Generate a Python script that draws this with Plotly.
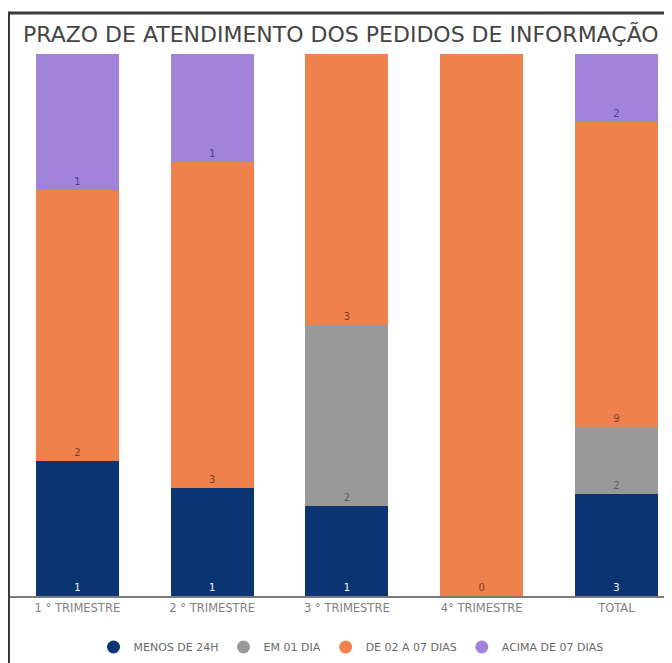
import plotly.graph_objects as go

categories = ["1 ° TRIMESTRE", "2 ° TRIMESTRE", "3 ° TRIMESTRE", "4° TRIMESTRE", "TOTAL"]
series_names = ["MENOS DE 24H", "EM 01 DIA", "DE 02 A 07 DIAS", "ACIMA DE 07 DIAS"]
menos_24h = [1, 1, 1, 0, 3]
em_01_dia = [0, 0, 2, 0, 2]
de_02_a_07 = [2, 3, 3, 1, 9]
acima_07 = [1, 1, 0, 0, 2]

# value labels as printed on the chart
menos_24h_labels = ["1", "1", "1", "", "3"]
em_01_dia_labels = ["", "", "2", "", "2"]
de_02_a_07_labels = ["2", "3", "3", "0", "9"]
acima_07_labels = ["1", "1", "", "", "2"]

series_values = [menos_24h, em_01_dia, de_02_a_07, acima_07]
series_labels = [menos_24h_labels, em_01_dia_labels, de_02_a_07_labels, acima_07_labels]
colors = ["#0b3473", "#999999", "#ee814c", "#a283da"]
label_colors = ["#ffffff", "#5e5e5e", "#7a3e22", "#4e3d86"]

OFF = 8  # page body offset
W, H = 672 - OFF, 663 - OFF
ML, MR, MT, MB = 10 - OFF, 0, 54 - OFF, 67
plot_w = W - ML - MR
plot_h = H - MT - MB
cat_px = 134.75
span = plot_w / cat_px

fig = go.Figure()
FONT = "DejaVu Sans"

for name, vals, labs, c, lc in zip(series_names, series_values, series_labels, colors, label_colors):
    fig.add_trace(go.Bar(
        x=categories, y=vals, name=name,
        marker=dict(color=c, line=dict(width=0)),
        width=0.616,
        text=labs,
        textposition="inside", insidetextanchor="start",
        insidetextfont=dict(family=FONT, size=10, color=lc),
        constraintext="none",
        showlegend=False, hoverinfo="skip",
    ))
    fig.add_trace(go.Scatter(
        x=[None], y=[None], mode="markers", name=name,
        marker=dict(symbol="circle", size=13, color=c),
        showlegend=True,
    ))

def px2paper_x(px):
    return (px - OFF - ML) / plot_w

def px2paper_y(py):
    return (H - MB - (py - OFF)) / plot_h

fig.add_shape(type="rect", xref="paper", yref="paper",
              x0=px2paper_x(8.5), x1=px2paper_x(720),
              y0=px2paper_y(720), y1=px2paper_y(13),
              line=dict(color="#3a3a3a", width=3), layer="above")

fig.add_annotation(xref="paper", yref="paper",
                   x=px2paper_x(21), y=px2paper_y(34),
                   xanchor="left", yanchor="middle", showarrow=False,
                   text="PRAZO DE ATENDIMENTO DOS PEDIDOS DE INFORMAÇÃO",
                   font=dict(family=FONT, size=22, color="#444444"))

fig.update_layout(
    width=W, height=H,
    margin=dict(l=ML, r=MR, t=MT, b=MB),
    barmode="stack", barnorm="percent",
    plot_bgcolor="white", paper_bgcolor="white",
    font=dict(family=FONT, size=11, color="#777777"),
    xaxis=dict(type="category", range=[-0.5, -0.5 + span],
               showline=True, linecolor="#7a7a7a", linewidth=2,
               ticks="", showgrid=False, fixedrange=True,
               tickfont=dict(family=FONT, size=11.5, color="#808080")),
    yaxis=dict(range=[0, 100], visible=False, fixedrange=True),
    legend=dict(orientation="h", xanchor="center", yanchor="middle",
                x=px2paper_x(351), y=px2paper_y(647),
                traceorder="normal",
                font=dict(family=FONT, size=11, color="#6a6a6a"),
                itemwidth=30, tracegroupgap=0),
    showlegend=True,
)

fig.write_html("out.html")
